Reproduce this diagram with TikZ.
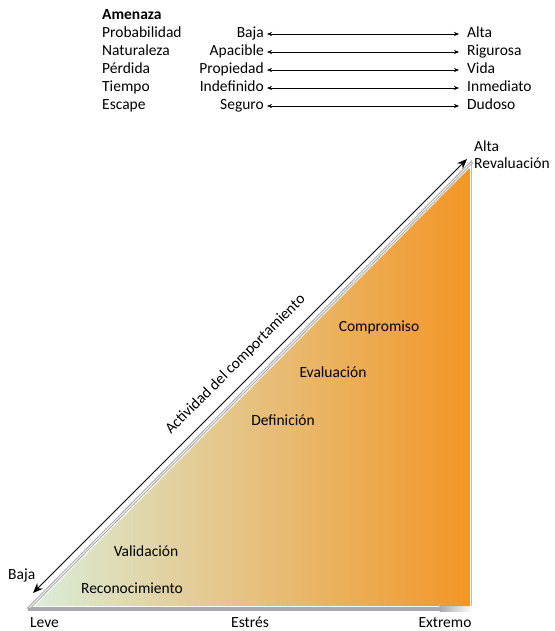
\documentclass[tikz,border=0pt]{standalone}
\usepackage{fontspec}
\setmainfont{Carlito}
\usetikzlibrary{arrows.meta,calc}
\definecolor{gstart}{RGB}{218,236,216}
\definecolor{gmid}{RGB}{231,205,150}
\definecolor{gend}{RGB}{243,150,38}
\definecolor{edgegray}{RGB}{170,170,172}
\tikzset{
  txt/.style={font=\fontsize{15.5}{18}\selectfont, inner sep=0pt, text height=10.5pt, text depth=3.5pt},
  row/.style={txt, anchor=base west},
  rowmid/.style={txt, anchor=base east},
  stage/.style={txt, anchor=base},
  axislbl/.style={txt, anchor=base, text depth=0pt},
  dbl/.style={{Stealth[length=5pt,width=4pt]}-{Stealth[length=5pt,width=4pt]}, line width=0.6pt},
  big/.style={{Stealth[length=10pt,width=8pt]}-{Stealth[length=10pt,width=8pt]}, line width=0.8pt}
}
\begin{document}
\begin{tikzpicture}[x=1pt,y=-1pt]
\useasboundingbox (0,0) rectangle (554,631);
% header
\node[row, font=\fontsize{15.5}{18}\selectfont\bfseries] (amen) at (102,19.5) {Amenaza};
\foreach \i/\l/\m/\r [count=\k from 0] in {1/Probabilidad/Baja/Alta, 2/Naturaleza/Apacible/Rigurosa, 3/Pérdida/Propiedad/Vida, 4/Tiempo/Indefinido/Inmediato, 5/Escape/Seguro/Dudoso}{
  \node[row] (l\i) at (102,{37.5+18*\k}) {\l};
  \node[rowmid] (m\i) at (264,{37.5+18*\k}) {\m};
  \node[row] (r\i) at (467,{37.5+18*\k}) {\r};
  \draw[dbl] ([xshift=3pt]m\i.east) -- ([xshift=-8pt]r\i.west);
}
% triangle border (shadow)
\fill[edgegray] (28,606.5) rectangle (440,611);
\shade[left color=edgegray, right color=white] (439.5,606.5) rectangle (472,611);
\draw[edgegray, line width=3pt] (28,609) -- (472,162);
\draw[white, line width=0.8pt] (29.5,607.5) -- (472,162);
\draw[edgegray!80, line width=1.5pt] (471.5,160) -- (471.5,606);
% triangle fill
\shade[left color=gstart, middle color=gmid, right color=gend] (35,606) -- (469.5,168) -- (469.5,606) -- cycle;
% coordinates for the big arrow
\coordinate (lo) at (33,593);
\coordinate (hi) at (467,159);
\draw[big] (lo) -- (hi);
\node[txt, rotate=45] (act) at (236,365) {Actividad del comportamiento};
% axis labels
\node[row] (alta) at (474,151.5) {Alta};
\node[row] (reval) at (474,168.5) {Revaluación};
\node[row] (baja) at (8,579.5) {Baja};
\node[axislbl, anchor=base west] (leve) at (30,627.5) {Leve};
\node[axislbl] (estres) at (250,627.5) {Estrés};
\node[axislbl] (extremo) at (445,627.5) {Extremo};
% stages
\node[stage] (comp) at (379,331.5) {Compromiso};
\node[stage] (eval) at (333,377.5) {Evaluación};
\node[stage] (defi) at (283,425.5) {Definición};
\node[stage] (vali) at (146,556.5) {Validación};
\node[stage] (reco) at (132,593.5) {Reconocimiento};
\end{tikzpicture}
\end{document}
